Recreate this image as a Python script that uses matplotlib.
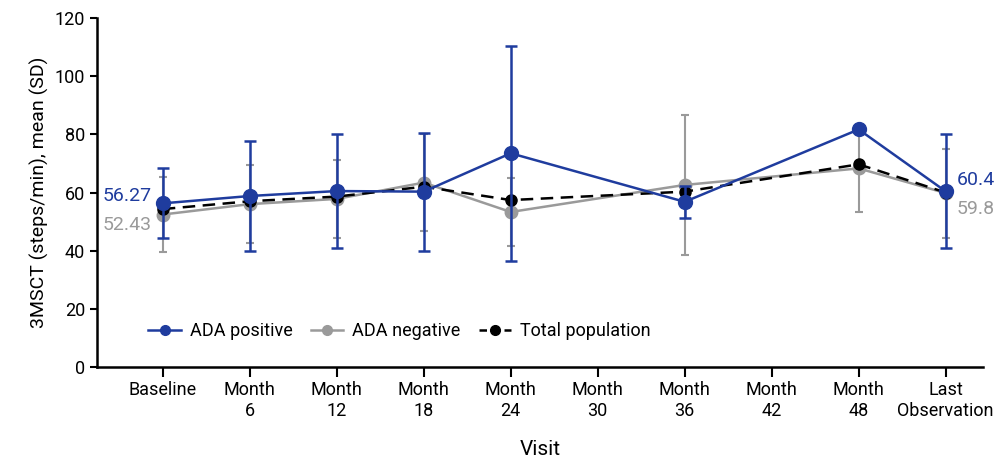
import numpy as np
import matplotlib.pyplot as plt
from matplotlib.lines import Line2D

plt.rcParams['font.family'] = ['Roboto', 'DejaVu Sans']

visits = ['Baseline', 'Month\n6', 'Month\n12', 'Month\n18', 'Month\n24', 'Month\n30',
          'Month\n36', 'Month\n42', 'Month\n48', 'Last\nObservation']

# positions with data (Month 30 and Month 42 have none)
idx = [0, 1, 2, 3, 4, 6, 8, 9]

pos_mean = [56.27, 58.8, 60.5, 60.3, 73.5, 56.8, 81.7, 60.4]
pos_sd = [12.0, 19.0, 19.6, 20.3, 37.0, 5.4, 0.0, 19.6]

neg_mean = [52.43, 56.0, 57.8, 63.4, 53.3, 62.6, 68.3, 59.8]
neg_sd = [12.8, 13.5, 13.3, 16.7, 11.8, 24.0, 15.1, 15.3]

tot_mean = [54.3, 57.0, 58.6, 62.0, 57.4, 60.3, 69.7, 60.0]

blue = '#1f3c9e'
grey = '#9a9a9a'

fig = plt.figure(figsize=(9.97, 4.65), dpi=100)
ax = fig.add_axes([0.097, 0.211, 0.889, 0.75])

x = np.array(idx)

ax.errorbar(x, neg_mean, yerr=neg_sd, color=grey, lw=1.8, marker='o', ms=9,
            elinewidth=1.5, capsize=3, capthick=1.5, zorder=2)
ax.plot(x, tot_mean, color='black', lw=1.8, ls=(0, (5, 3)), marker='o', ms=8, zorder=3)
pos_err = np.array(pos_sd)
ax.errorbar(x, pos_mean, yerr=np.where(pos_err > 0, pos_err, np.nan), color=blue, lw=1.8,
            marker='o', ms=10, elinewidth=1.8, capsize=4, capthick=1.8, zorder=4)

# end labels
ax.text(x[0] - 0.13, pos_mean[0] + 2.5, '%.2f' % pos_mean[0], color=blue, fontsize=14,
        ha='right', va='center')
ax.text(x[0] - 0.13, neg_mean[0] - 3.6, '%.2f' % neg_mean[0], color=grey, fontsize=14,
        ha='right', va='center')
ax.text(x[-1] + 0.13, pos_mean[-1] + 3.8, '%.1f' % pos_mean[-1], color=blue, fontsize=14,
        ha='left', va='center')
ax.text(x[-1] + 0.13, neg_mean[-1] - 5.5, '%.1f' % neg_mean[-1], color=grey, fontsize=14,
        ha='left', va='center')

ax.set_xlim(-0.76, 9.43)
ax.set_ylim(0, 120)
ax.set_yticks(np.arange(0, 121, 20))
ax.set_xticks(range(len(visits)))
ax.set_xticklabels(visits, fontsize=13)
ax.tick_params(axis='y', labelsize=13, width=1.5, length=5)
ax.tick_params(axis='x', width=1.5, length=7)
for s in ['top', 'right']:
    ax.spines[s].set_visible(False)
for s in ['left', 'bottom']:
    ax.spines[s].set_linewidth(1.8)

ax.set_xlabel('Visit', fontsize=15, labelpad=14)
ax.set_ylabel('3MSCT (steps/min), mean (SD)', fontsize=14)

handles = [
    Line2D([], [], color=blue, lw=1.8, marker='o', ms=7),
    Line2D([], [], color=grey, lw=1.8, marker='o', ms=7),
    Line2D([], [], color='black', lw=1.8, ls=(0, (3, 2)), marker='o', ms=7),
]
ax.legend(handles, ['ADA positive', 'ADA negative', 'Total population'], loc='lower left',
          bbox_to_anchor=(0.04, 0.03), ncol=3, frameon=False, fontsize=13,
          handlelength=1.8, handletextpad=0.5, columnspacing=1.0)

fig.savefig('out.png', dpi=100)
